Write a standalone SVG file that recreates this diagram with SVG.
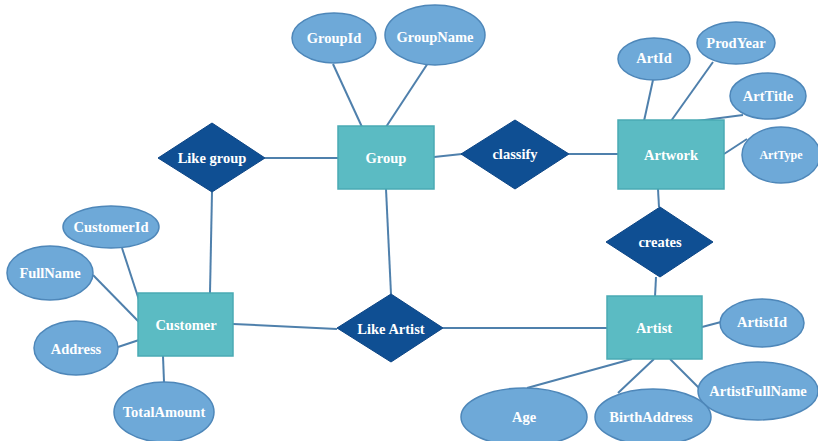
<svg xmlns="http://www.w3.org/2000/svg" width="818" height="441" viewBox="0 0 818 441">
  <style>
    .bg { fill: #ffffff; }
    .conn line { stroke: #4F80AC; stroke-width: 2; }
    .attr ellipse { fill: #6EA9D8; stroke: #4E87B9; stroke-width: 1.5; }
    .ent rect { fill: #5BBBC3; stroke: #4AAAB4; stroke-width: 1.5; }
    .rel polygon { fill: #0F4F93; stroke: #0C4585; stroke-width: 1; }
    text { font-family: "Liberation Serif", "Times New Roman", serif; font-weight: bold; font-size: 14.5px; fill: #ffffff; text-anchor: middle; dominant-baseline: central; }
  </style>
  <rect class="bg" x="0" y="0" width="818" height="441"/>

  <g id="connectors" class="conn">
    <!-- Group attributes -->
    <line x1="333" y1="64" x2="362" y2="127"/>
    <line x1="428" y1="63" x2="386" y2="127"/>
    <!-- Group relations -->
    <line x1="265" y1="158" x2="338" y2="158"/>
    <line x1="434" y1="157" x2="462" y2="154"/>
    <line x1="569" y1="154" x2="619" y2="154"/>
    <line x1="386" y1="189" x2="391" y2="294"/>
    <!-- Artwork attributes -->
    <line x1="653" y1="80" x2="644" y2="121"/>
    <line x1="713" y1="62" x2="671" y2="121"/>
    <line x1="743" y1="115" x2="697" y2="121"/>
    <line x1="747" y1="139" x2="724" y2="154"/>
    <!-- creates -->
    <line x1="658" y1="189" x2="659" y2="207"/>
    <line x1="656" y1="277" x2="655" y2="297"/>
    <!-- Artist attributes -->
    <line x1="702" y1="327" x2="721" y2="322"/>
    <line x1="670" y1="359" x2="699" y2="388"/>
    <line x1="654" y1="359" x2="618" y2="393"/>
    <line x1="632" y1="359" x2="527" y2="388"/>
    <!-- Like Artist -->
    <line x1="443" y1="328" x2="607" y2="328"/>
    <line x1="233" y1="324" x2="337" y2="329"/>
    <!-- Customer -->
    <line x1="210" y1="293" x2="212" y2="192"/>
    <line x1="122" y1="248" x2="139" y2="300"/>
    <line x1="93" y1="275" x2="139" y2="322"/>
    <line x1="118" y1="347" x2="139" y2="340"/>
    <line x1="163" y1="356" x2="164" y2="382"/>
  </g>

  <!-- Entities -->
  <g id="group" class="ent"><rect x="338" y="126" width="96" height="63"/><text x="386" y="158">Group</text></g>
  <g id="artwork" class="ent"><rect x="618" y="120" width="106" height="69"/><text x="671" y="155">Artwork</text></g>
  <g id="artist" class="ent"><rect x="607" y="296" width="95" height="63"/><text x="654" y="328">Artist</text></g>
  <g id="customer" class="ent"><rect x="138" y="293" width="95" height="63"/><text x="186" y="325">Customer</text></g>

  <!-- Relationships -->
  <g id="like-group" class="rel"><polygon points="212,123 265,158 212,192 158,158"/><text x="212" y="158">Like group</text></g>
  <g id="classify" class="rel"><polygon points="515,120 569,154 515,189 461,154"/><text x="515" y="154">classify</text></g>
  <g id="creates" class="rel"><polygon points="660,207 713,242 660,277 606,242"/><text x="660" y="242">creates</text></g>
  <g id="like-artist" class="rel"><polygon points="391,294 443,328 391,362 337,328"/><text x="391" y="329">Like Artist</text></g>

  <!-- Attributes -->
  <g id="groupid" class="attr"><ellipse cx="334" cy="38" rx="42" ry="25"/><text x="334" y="38">GroupId</text></g>
  <g id="groupname" class="attr"><ellipse cx="435" cy="35" rx="50" ry="30"/><text x="435" y="37">GroupName</text></g>
  <g id="artid" class="attr"><ellipse cx="654" cy="59" rx="36" ry="21"/><text x="654" y="58">ArtId</text></g>
  <g id="prodyear" class="attr"><ellipse cx="736" cy="43" rx="39" ry="21"/><text x="736" y="43">ProdYear</text></g>
  <g id="arttitle" class="attr"><ellipse cx="768" cy="96" rx="38" ry="23"/><text x="768" y="96">ArtTitle</text></g>
  <g id="arttype" class="attr"><ellipse cx="781" cy="155" rx="39" ry="28"/><text x="781" y="155" style="font-size:12px">ArtType</text></g>
  <g id="artistid" class="attr"><ellipse cx="762" cy="323" rx="42" ry="24"/><text x="762" y="322">ArtistId</text></g>
  <g id="artistfullname" class="attr"><ellipse cx="758" cy="391" rx="60" ry="29"/><text x="758" y="391">ArtistFullName</text></g>
  <g id="birthaddress" class="attr"><ellipse cx="653" cy="417" rx="58" ry="28"/><text x="651" y="417">BirthAddress</text></g>
  <g id="age" class="attr"><ellipse cx="524" cy="417" rx="63" ry="29"/><text x="524" y="417">Age</text></g>
  <g id="customerid" class="attr"><ellipse cx="111" cy="227" rx="48" ry="21"/><text x="111" y="227">CustomerId</text></g>
  <g id="fullname" class="attr"><ellipse cx="50" cy="273" rx="43" ry="27"/><text x="50" y="273">FullName</text></g>
  <g id="address" class="attr"><ellipse cx="76" cy="348" rx="42" ry="27"/><text x="76" y="349">Address</text></g>
  <g id="totalamount" class="attr"><ellipse cx="164" cy="412" rx="50" ry="30"/><text x="164" y="412">TotalAmount</text></g>
</svg>
